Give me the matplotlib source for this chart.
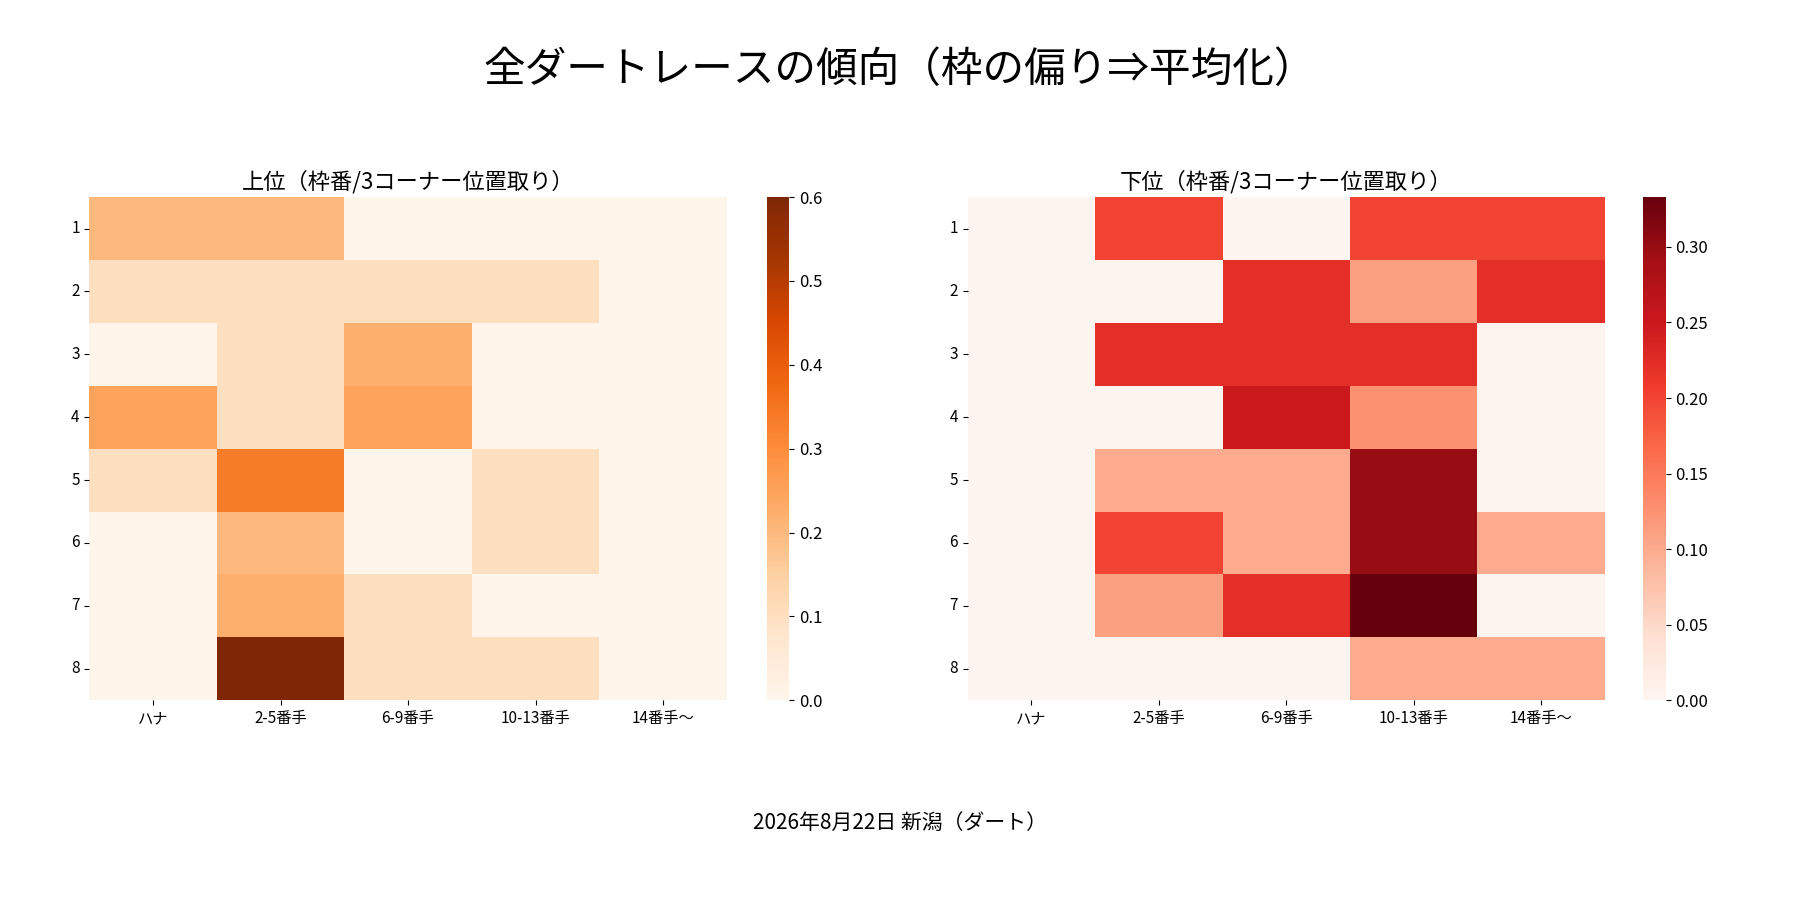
import matplotlib
matplotlib.use("Agg")
import matplotlib.pyplot as plt
import numpy as np
import seaborn as sns

plt.rcParams['font.family'] = ['Noto Sans CJK JP', 'DejaVu Sans']

rows = ["1", "2", "3", "4", "5", "6", "7", "8"]
cols = ["ハナ", "2-5番手", "6-9番手", "10-13番手", "14番手〜"]

upper = np.array([
    [0.2, 0.2, 0.0, 0.0, 0.0],
    [0.1, 0.1, 0.1, 0.1, 0.0],
    [0.0, 0.1, 0.222, 0.0, 0.0],
    [0.25, 0.1, 0.25, 0.0, 0.0],
    [0.1, 0.333, 0.0, 0.1, 0.0],
    [0.0, 0.2, 0.0, 0.1, 0.0],
    [0.0, 0.222, 0.1, 0.0, 0.0],
    [0.0, 0.6, 0.1, 0.1, 0.0],
])
lower = np.array([
    [0.0, 0.2, 0.0, 0.2, 0.2],
    [0.0, 0.0, 0.222, 0.111, 0.222],
    [0.0, 0.222, 0.222, 0.222, 0.0],
    [0.0, 0.0, 0.25, 0.125, 0.0],
    [0.0, 0.1, 0.1, 0.3, 0.0],
    [0.0, 0.2, 0.1, 0.3, 0.1],
    [0.0, 0.111, 0.222, 0.333, 0.0],
    [0.0, 0.0, 0.0, 0.1, 0.1],
])

fig = plt.figure(figsize=(18, 9), dpi=100)
panels = [
    (upper, "Oranges", "上位（枠番/3コーナー位置取り）", 0.0497, 0.426),
    (lower, "Reds", "下位（枠番/3コーナー位置取り）", 0.5376, 0.913),
]
for data, cmap, title, x0, cx in panels:
    ax = fig.add_axes([x0, 0.222, 0.354, 0.559])
    cax = fig.add_axes([cx, 0.222, 0.0125, 0.559])
    sns.heatmap(data, cmap=cmap, ax=ax, cbar_ax=cax, xticklabels=cols, yticklabels=rows)
    ax.set_title(title, fontsize=16)
    ax.tick_params(labelsize=11)
    ax.set_yticklabels(rows, rotation=0)
    cax.tick_params(labelsize=12)

fig.suptitle("全ダートレースの傾向（枠の偏り⇒平均化）", fontsize=30, y=0.945)
fig.text(0.5, 0.079, "2026年8月22日 新潟（ダート）", ha="center", fontsize=15)
fig.savefig("out.png", dpi=100)
